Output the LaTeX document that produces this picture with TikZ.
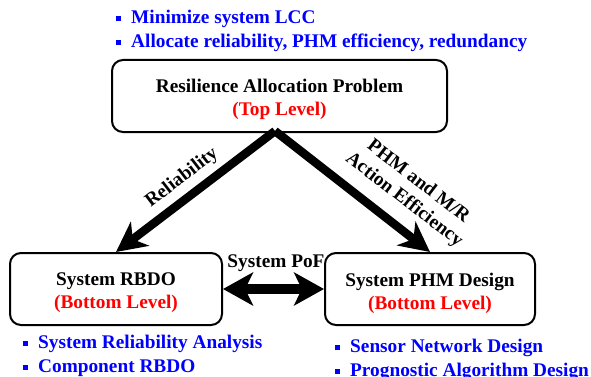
\documentclass[tikz,border=0pt]{standalone}
\usepackage{fontspec}
\setmainfont{Liberation Serif}
\usetikzlibrary{arrows.meta}
\definecolor{pblue}{RGB}{0,0,255}
\definecolor{pred}{RGB}{255,0,0}
\newcommand{\blt}{{\color{pblue}\rule[2.5pt]{5pt}{5pt}}\hspace{10pt}}
\tikzset{
  base/.style={font=\fontsize{19.3}{23}\selectfont\bfseries},
  box/.style={draw, line width=2pt, rounded corners=11pt, inner sep=0pt},
  boxtext/.style={base, align=center, inner sep=0pt},
  bullets/.style={font=\fontsize{19.3}{23.5}\selectfont\bfseries, text=pblue, align=left, inner sep=0pt, anchor=west},
  bigarrow/.style={line width=8.5pt, -{Stealth[length=30pt, width=30pt, inset=9pt]}},
  dblarrow/.style={line width=10pt, {Stealth[length=30pt, width=33pt, inset=8pt]}-{Stealth[length=30pt, width=33pt, inset=8pt]}},
  lbl/.style={base, align=center, inner sep=0pt}
}
\begin{document}
\begin{tikzpicture}[x=1pt, y=-1pt]
\useasboundingbox (0,0) rectangle (591,377);
\node[box, minimum width=335pt, minimum height=72pt] (top) at (279.5,96) {};
\node[boxtext] (toptext) at (279.5,99.5) {Resilience Allocation Problem\\\textcolor{pred}{(Top Level)}};
\node[box, minimum width=212pt, minimum height=72pt] (bl) at (116,289) {};
\node[boxtext] (bltext) at (116,293) {System RBDO\\\textcolor{pred}{(Bottom Level)}};
\node[box, minimum width=210pt, minimum height=72pt] (br) at (430,289) {};
\node[boxtext] (brtext) at (430,293) {System PHM Design\\\textcolor{pred}{(Bottom Level)}};
\coordinate (apex) at (275,131);
\draw[bigarrow] (apex) -- (bl.north);
\draw[bigarrow] (apex) -- (br.north);
\draw[dblarrow] (bl.east) -- (br.west);
\node[lbl, rotate=37.6] (rel) at (182,178) {Reliability};
\node[lbl, rotate=-37.6] (phm) at (411,191) {PHM and M/R\\Action Efficiency};
\node[lbl] (pof) at (276,263) {System PoF};
\node[bullets] (tb) at (116,31) {\blt Minimize system LCC\\\blt Allocate reliability, PHM efficiency, redundancy};
\node[bullets] (lb) at (23,356) {\blt System Reliability Analysis\\\blt Component RBDO};
\node[bullets] (rb) at (335,360) {\blt Sensor Network Design\\\blt Prognostic Algorithm Design};
\end{tikzpicture}
\end{document}
